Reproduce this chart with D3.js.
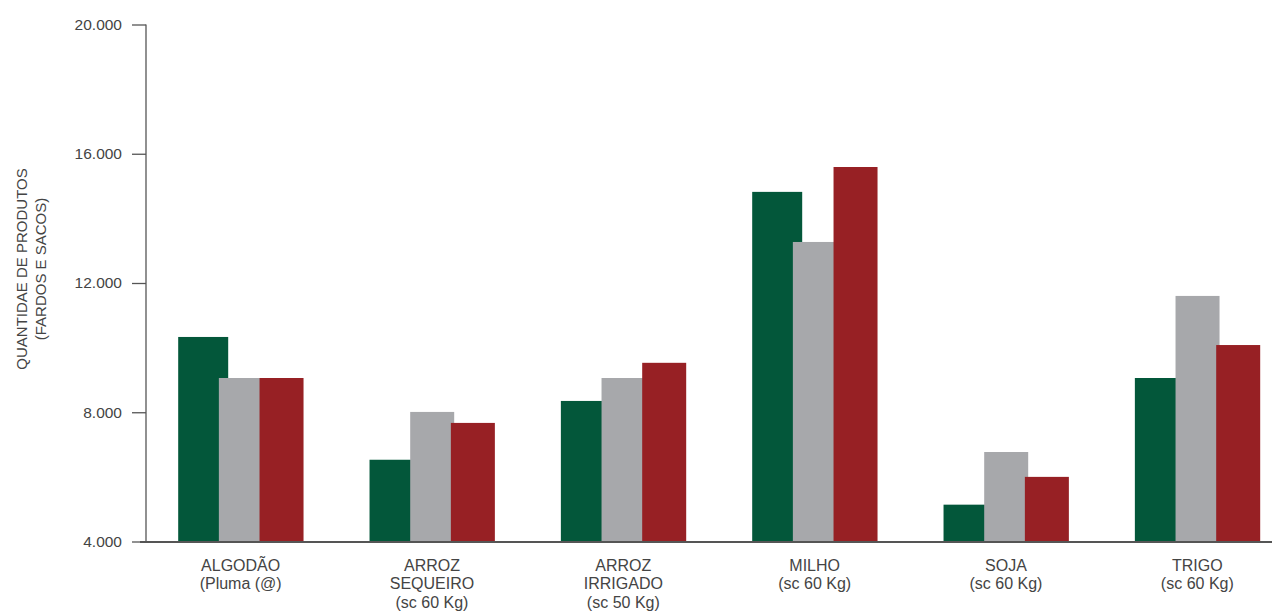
<!DOCTYPE html>
<html>
<head>
<meta charset="utf-8">
<script src="https://cdn.jsdelivr.net/npm/d3@7"></script>
<style>
  html, body { margin: 0; padding: 0; background: #fff; }
  svg { display: block; font-family: Arial, "Liberation Sans", sans-serif; }
</style>
</head>
<body>
<svg id="chart" width="1272" height="611"></svg>
<script>
// Produtos (rótulos em linhas)
const categories = ["ALGODÃO", "ARROZ SEQUEIRO", "ARROZ IRRIGADO", "MILHO", "SOJA", "TRIGO"];
const categoryLines = [
  ["ALGODÃO", "(Pluma (@)"],
  ["ARROZ", "SEQUEIRO", "(sc 60 Kg)"],
  ["ARROZ", "IRRIGADO", "(sc 50 Kg)"],
  ["MILHO", "(sc 60 Kg)"],
  ["SOJA", "(sc 60 Kg)"],
  ["TRIGO", "(sc 60 Kg)"]
];
// Quantidades por série
const seriesKeys = ["s1", "s2", "s3"];
const series1 = [10330, 6530, 8350, 14820, 5140, 9060];
const series2 = [9060, 8010, 9060, 13270, 6770, 11600];
const series3 = [9060, 7670, 9530, 15590, 6000, 10080];
const yTicks = [4000, 8000, 12000, 16000, 20000];

const colors = ["#03573A", "#A7A8AB", "#972024"];
const barWidths = [50, 44, 44];

const svg = d3.select("#chart");
const values = [series1, series2, series3];

const x0 = d3.scaleBand().domain(categories).range([145, 1293]).paddingInner(0.347).paddingOuter(0.1735);
const x1 = d3.scaleBand().domain(seriesKeys).range([0, 122]);
const y = d3.scaleLinear().domain([4000, 20000]).range([541.5, 24.5]);

const ptBR = d3.formatLocale({ decimal: ",", thousands: ".", grouping: [3], currency: ["R$", ""] });
const fmt = ptBR.format(",.0f");

// Barras (sobrepostas: verde, cinza, vermelho)
seriesKeys.forEach((k, si) => {
  svg.append("g")
    .selectAll("rect")
    .data(categories.map((c, i) => ({ c, v: values[si][i] })))
    .join("rect")
    .attr("x", d => x0(d.c) + x1(k))
    .attr("y", d => y(d.v))
    .attr("width", barWidths[si])
    .attr("height", d => y(4000) - y(d.v))
    .attr("fill", colors[si]);
});

// Eixo Y
const yAxis = svg.append("g")
  .attr("transform", "translate(146,0)")
  .call(d3.axisLeft(y).tickValues(yTicks).tickFormat(fmt).tickSize(14).tickPadding(10));
yAxis.select(".domain").attr("stroke", "#555").attr("stroke-width", 1.3).attr("d", `M0,${y(20000)}V${y(4000)}`);
yAxis.selectAll(".tick line").attr("stroke", "#555").attr("stroke-width", 1.3);
yAxis.selectAll(".tick text").attr("fill", "#444").style("font-size", "15.5px");

// Linha de base
svg.append("line")
  .attr("x1", 140).attr("x2", 1272)
  .attr("y1", y(4000) + 0.5).attr("y2", y(4000) + 0.5)
  .attr("stroke", "#555").attr("stroke-width", 2);

// Rótulos das categorias
const xl = svg.append("g").attr("fill", "#444").style("font-size", "16px").attr("text-anchor", "middle");
categories.forEach((c, i) => {
  const cx = x0(c) + x0.bandwidth() / 2;
  categoryLines[i].forEach((line, li) => {
    xl.append("text").attr("x", cx).attr("y", 570.5 + li * 18.5).text(line);
  });
});

// Título do eixo Y
const yt = svg.append("g").attr("fill", "#444").style("font-size", "15px").attr("text-anchor", "middle");
yt.append("text").attr("transform", "translate(27,269) rotate(-90)").text("QUANTIDAE DE PRODUTOS");
yt.append("text").attr("transform", "translate(46,269) rotate(-90)").text("(FARDOS E SACOS)");
</script>
</body>
</html>
